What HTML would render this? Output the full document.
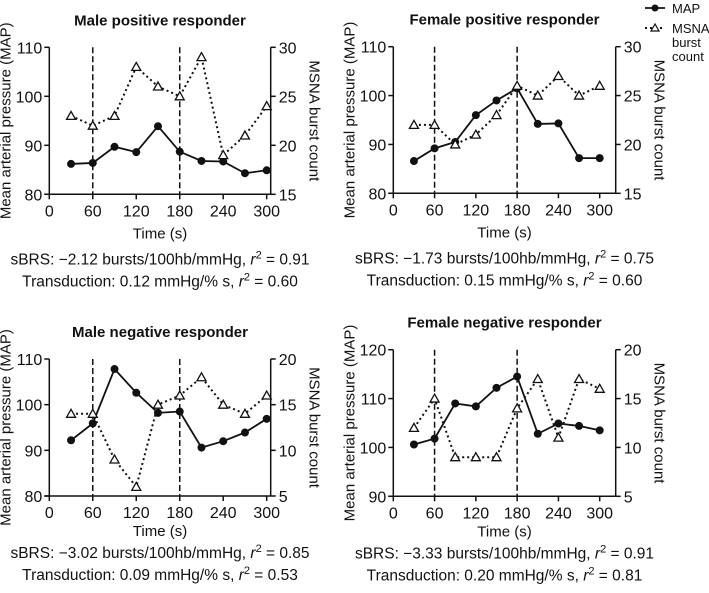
<!DOCTYPE html>
<html><head><meta charset="utf-8"><style>
body{margin:0;background:#fff;width:709px;height:588px;overflow:hidden}
svg{font-family:"Liberation Sans",Arial,sans-serif}
</style></head><body>
<svg id="c" width="709" height="588"></svg>
<script>
const times=[30,60,90,120,150,180,210,240,270,300];
const xTicks=[0,60,120,180,240,300];
const map1=[86.2,86.4,89.7,88.6,93.9,88.7,86.8,86.7,84.3,84.9];
const msna1=[23,22,23,28,26,25,29,19,21,24];
const map2=[86.6,89.2,90.5,96,99,101.5,94.2,94.3,87.2,87.2];
const msna2=[22,22,20,21,23,26,25,27,25,26];
const map3=[92.2,95.9,107.8,102.6,98.2,98.5,90.6,92,93.9,96.9];
const msna3=[14,14,9,6,15,16,18,15,14,16];
const map4=[100.6,101.8,109,108.4,112.2,114.5,102.8,104.9,104.4,103.5];
const msna4=[12,15,9,9,9,14,17,11,17,16];
const leftTicks1=[80,90,100,110], rightTicks1=[15,20,25,30];
const leftTicks2=[90,100,110,120], rightTicks2=[5,10,15,20];
const titles=["Male positive responder","Female positive responder","Male negative responder","Female negative responder"];
const notes=[["sBRS: \u22122.12 bursts/100hb/mmHg, ","0.91","Transduction: 0.12 mmHg/% s, ","0.60"],
["sBRS: \u22121.73 bursts/100hb/mmHg, ","0.75","Transduction: 0.15 mmHg/% s, ","0.60"],
["sBRS: \u22123.02 bursts/100hb/mmHg, ","0.85","Transduction: 0.09 mmHg/% s, ","0.53"],
["sBRS: \u22123.33 bursts/100hb/mmHg, ","0.91","Transduction: 0.20 mmHg/% s, ","0.81"]];
const svg=document.getElementById('c');
const NS='http://www.w3.org/2000/svg';
function mk(t,a,p){const e=document.createElementNS(NS,t);for(const k in a)e.setAttribute(k,a[k]);(p||svg).appendChild(e);return e;}
function txt(s,x,y,sz,anchor,p,extra){const e=mk('text',Object.assign({x:x,y:y,'font-size':sz,'text-anchor':anchor||'middle',fill:'#111'},extra||{}),p);e.textContent=s;return e;}
const panels=[
 {x0:49.3,x300:266.7,right:270.7,top:47.3,bot:194.3,lt:leftTicks1,rt:rightTicks1,map:map1,ms:msna1,off:[44,70,92]},
 {x0:393.3,x300:599.7,right:615.7,top:46.7,bot:193.3,lt:leftTicks1,rt:rightTicks1,map:map2,ms:msna2,off:[44,70,92]},
 {x0:49.3,x300:266.7,right:270.7,top:359,bot:496,lt:leftTicks1,rt:rightTicks2,map:map3,ms:msna3,off:[40,62,84]},
 {x0:393.3,x300:599.7,right:615.7,top:349.7,bot:496.3,lt:leftTicks2,rt:rightTicks2,map:map4,ms:msna4,off:[40,62,84]}];
panels.forEach((P,i)=>{
 const g=mk('g',{});
 
 
 const xs=t=>P.x0+(t/300)*(P.x300-P.x0);
 const lmin=P.lt[0],lmax=P.lt[P.lt.length-1],rmin=P.rt[0],rmax=P.rt[P.rt.length-1];
 const yl=v=>P.bot-(v-lmin)/(lmax-lmin)*(P.bot-P.top);
 const yr=v=>P.bot-(v-rmin)/(rmax-rmin)*(P.bot-P.top);
 const cx=(P.x0+P.right)/2;
 const tt=txt(titles[i],cx,P.top-22,15,'middle',g,{'font-weight':'bold'});
 
 
 mk('line',{x1:P.x0,y1:P.top,x2:P.x0,y2:P.bot,stroke:'#111','stroke-width':1.5},g);
 mk('line',{x1:P.right,y1:P.top,x2:P.right,y2:P.bot,stroke:'#111','stroke-width':1.5},g);
 mk('line',{x1:P.x0-5,y1:P.bot,x2:P.right,y2:P.bot,stroke:'#111','stroke-width':1.5},g);
 P.lt.forEach(v=>{mk('line',{x1:P.x0-5,y1:yl(v),x2:P.x0,y2:yl(v),stroke:'#111','stroke-width':1.5},g);txt(String(v),P.x0-7,yl(v)+6,16,'end',g);});
 P.rt.forEach(v=>{mk('line',{x1:P.right,y1:yr(v),x2:P.right+5,y2:yr(v),stroke:'#111','stroke-width':1.5},g);txt(String(v),P.right+8,yr(v)+6,16,'start',g);});
 xTicks.forEach(v=>{mk('line',{x1:xs(v),y1:P.bot,x2:xs(v),y2:P.bot+5,stroke:'#111','stroke-width':1.5},g);txt(String(v),xs(v),P.bot+22,16,'middle',g);});
 txt('Time (s)',cx,P.bot+P.off[0],15,'middle',g);
 const ya=txt('Mean arterial pressure (MAP)',0,0,15,'middle',g,{transform:`translate(${P.x0-39},${(P.top+P.bot)/2}) rotate(-90)`});
 
 
 const yb=txt('MSNA burst count',0,0,15,'middle',g,{transform:`translate(${P.right+39},${(P.top+P.bot)/2}) rotate(90)`});
 
 
 [60,180].forEach(v=>mk('line',{x1:xs(v),y1:P.top,x2:xs(v),y2:P.bot,stroke:'#111','stroke-width':1.5,'stroke-dasharray':'6,3'},g));
 mk('polyline',{points:times.map((t,k)=>xs(t)+','+yr(P.ms[k])).join(' '),fill:'none',stroke:'#111','stroke-width':2,'stroke-dasharray':'2,3'},g);
 mk('polyline',{points:times.map((t,k)=>xs(t)+','+yl(P.map[k])).join(' '),fill:'none',stroke:'#111','stroke-width':1.8},g);
 times.forEach((t,k)=>{
  const c=mk('circle',{cx:xs(t),cy:yl(P.map[k]),r:4,fill:'#111'},g);
  
  
  const X=xs(t),Y=yr(P.ms[k]);
  const tr=mk('polygon',{points:`${X},${Y-4.5} ${X-4.5},${Y+3.5} ${X+4.5},${Y+3.5}`,fill:'#fff',stroke:'#111','stroke-width':1.3},g);
  
  
 });
 const n=notes[i];
 [[0,1,P.bot+P.off[1]],[2,3,P.bot+P.off[2]]].forEach(([a,b,y])=>{
  const t=mk('text',{x:cx,y:y,'font-size':15.5,'text-anchor':'middle',fill:'#111'},g);
  
  
  const s1=mk('tspan',{},t);s1.textContent=n[a];
  const s2=mk('tspan',{'font-style':'italic'},t);s2.textContent='r';
  const s3=mk('tspan',{dy:-6,'font-size':11},t);s3.textContent='2';
  const s4=mk('tspan',{dy:6},t);s4.textContent=' = '+n[b];
 });
});
const lg=mk('g',{});


mk('line',{x1:645,y1:8,x2:665,y2:8,stroke:'#111','stroke-width':1.8},lg);
mk('circle',{cx:655,cy:8,r:3.5,fill:'#111'},lg);
txt('MAP',672,13,13,'start',lg);
mk('line',{x1:645,y1:28,x2:665,y2:28,stroke:'#111','stroke-width':2,'stroke-dasharray':'2,3'},lg);
mk('polygon',{points:'655,24 651,31 659,31',fill:'#fff',stroke:'#111','stroke-width':1.2},lg);
txt('MSNA',672,33,13,'start',lg);
txt('burst',672,47,13,'start',lg);
txt('count',672,61,13,'start',lg);
</script>
</body></html>
